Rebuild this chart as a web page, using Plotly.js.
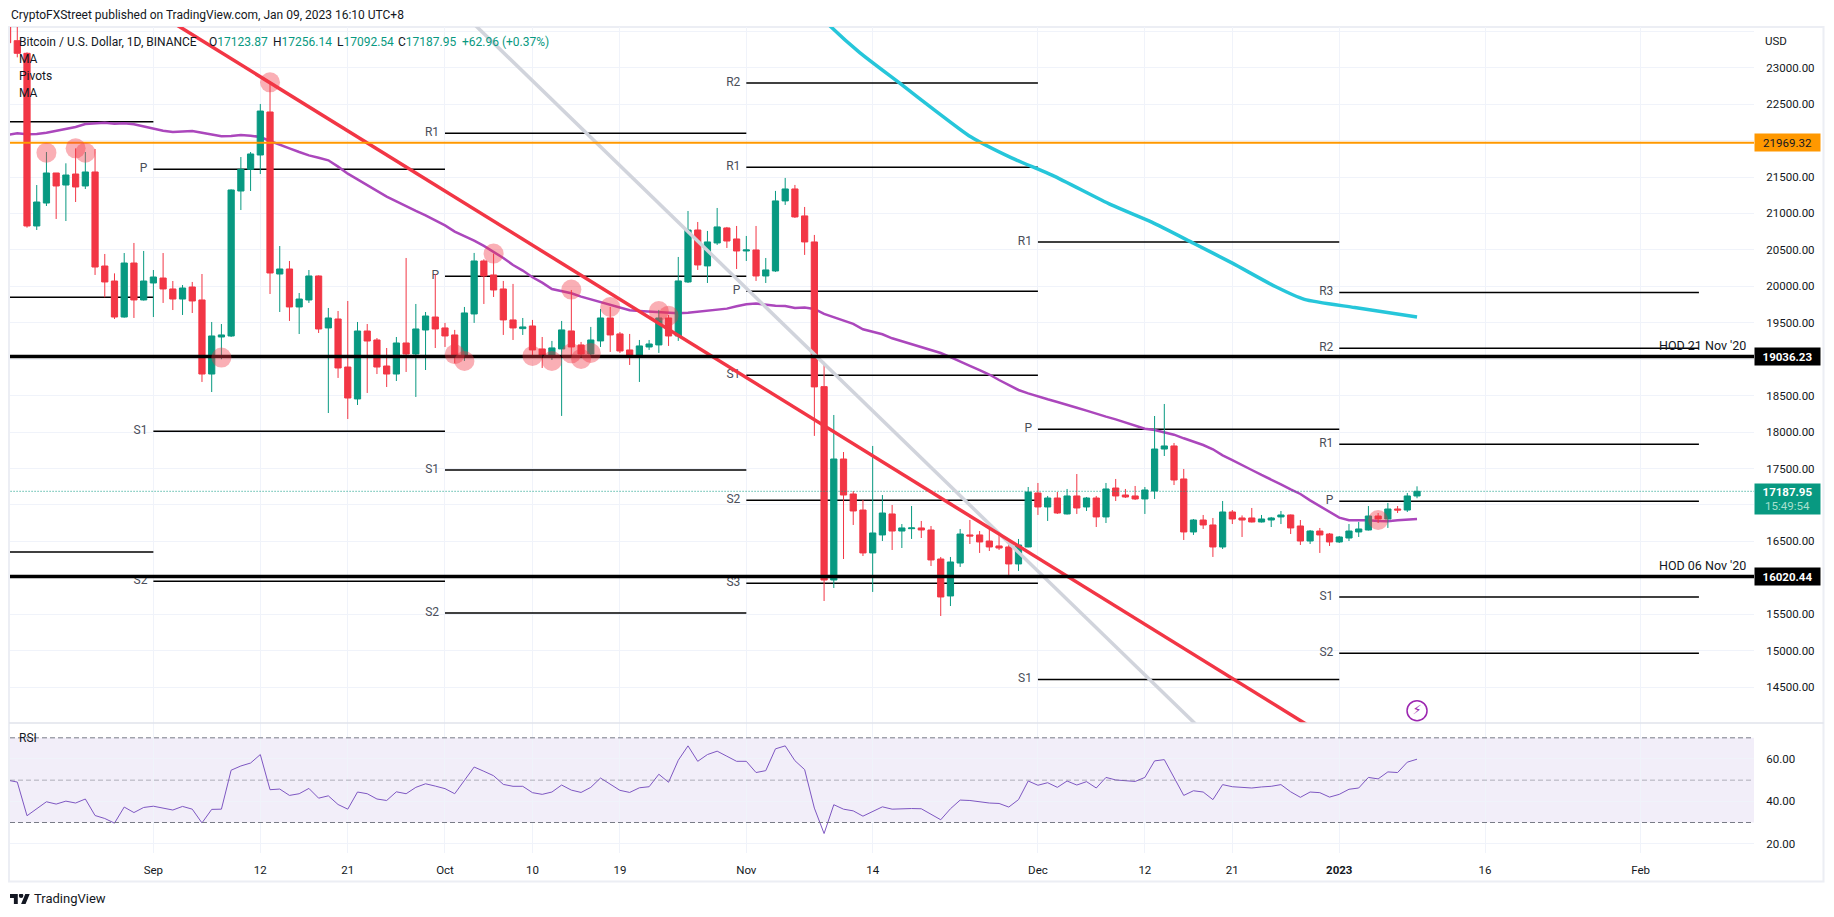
<!DOCTYPE html>
<html>
<head>
<meta charset="utf-8">
<script src="https://cdn.plot.ly/plotly-3.0.1.min.js"></script>
<style>html,body{margin:0;padding:0;background:#fff}#c{width:1834px;height:917px}</style>
</head>
<body>
<div id="c"></div>
<script>
const dates = [
"2022-08-17","2022-08-18","2022-08-19","2022-08-20","2022-08-21","2022-08-22","2022-08-23","2022-08-24","2022-08-25","2022-08-26","2022-08-27","2022-08-28","2022-08-29","2022-08-30","2022-08-31",
"2022-09-01","2022-09-02","2022-09-03","2022-09-04","2022-09-05","2022-09-06","2022-09-07","2022-09-08","2022-09-09","2022-09-10","2022-09-11","2022-09-12","2022-09-13","2022-09-14","2022-09-15","2022-09-16","2022-09-17","2022-09-18","2022-09-19","2022-09-20","2022-09-21","2022-09-22","2022-09-23","2022-09-24","2022-09-25","2022-09-26","2022-09-27","2022-09-28","2022-09-29","2022-09-30",
"2022-10-01","2022-10-02","2022-10-03","2022-10-04","2022-10-05","2022-10-06","2022-10-07","2022-10-08","2022-10-09","2022-10-10","2022-10-11","2022-10-12","2022-10-13","2022-10-14","2022-10-15","2022-10-16","2022-10-17","2022-10-18","2022-10-19","2022-10-20","2022-10-21","2022-10-22","2022-10-23","2022-10-24","2022-10-25","2022-10-26","2022-10-27","2022-10-28","2022-10-29","2022-10-30","2022-10-31",
"2022-11-01","2022-11-02","2022-11-03","2022-11-04","2022-11-05","2022-11-06","2022-11-07","2022-11-08","2022-11-09","2022-11-10","2022-11-11","2022-11-12","2022-11-13","2022-11-14","2022-11-15","2022-11-16","2022-11-17","2022-11-18","2022-11-19","2022-11-20","2022-11-21","2022-11-22","2022-11-23","2022-11-24","2022-11-25","2022-11-26","2022-11-27","2022-11-28","2022-11-29","2022-11-30",
"2022-12-01","2022-12-02","2022-12-03","2022-12-04","2022-12-05","2022-12-06","2022-12-07","2022-12-08","2022-12-09","2022-12-10","2022-12-11","2022-12-12","2022-12-13","2022-12-14","2022-12-15","2022-12-16","2022-12-17","2022-12-18","2022-12-19","2022-12-20","2022-12-21","2022-12-22","2022-12-23","2022-12-24","2022-12-25","2022-12-26","2022-12-27","2022-12-28","2022-12-29","2022-12-30","2022-12-31",
"2023-01-01","2023-01-02","2023-01-03","2023-01-04","2023-01-05","2023-01-06","2023-01-07","2023-01-08","2023-01-09"];

const opens = [
23856,23370,23197,20828,21143,21555,21390,21541,21377,21569,20279,20073,19579,20320,19813,
20046,20114,19964,19826,19991,19813,18797,19305,19319,21308,21605,21802,22392,20169,20238,19717,19813,20142,19429,19552,18893,18455,19387,19264,18907,18797,19223,19072,19401,19579,
19429,19333,19058,19621,20348,20156,19964,19539,19420,19456,19141,19058,19141,19388,19196,19072,19251,19566,19347,19127,19058,19168,19196,19566,19319,20060,20773,20280,20595,20801,20650,
20485,20499,20142,20211,21172,21336,20966,20609,18624,15971,17631,17151,16931,16342,16589,16877,16643,16675,16685,16657,16259,15752,16204,16589,16589,16506,16438,16424,16191,16424,
17165,16973,17096,16877,17124,16973,17096,16836,17233,17137,17124,17083,17192,17768,17810,17357,16630,16794,16726,16424,16904,16822,16822,16767,16794,16836,16863,16712,16506,16643,16602,
16493,16547,16630,16657,16849,16808,16945,16931,17123.87];
const highs = [
24446,23600,23210,21390,21843,21555,21688,21893,21843,21884,20444,20178,20457,20595,20485,
20224,20457,20073,20018,20060,20169,19511,19483,21330,21774,21843,22502,22808,20553,20348,19909,20224,20150,19703,19662,19799,19511,19483,19291,19154,19305,20389,19758,19648,20169,
19498,19402,19717,20458,20371,20449,20074,20033,19566,19539,19305,19251,19525,19950,19237,19443,19690,19717,19374,19347,19264,19264,19676,19607,20403,21034,20883,20760,21075,20815,20828,
20691,20828,20389,21309,21487,21391,21089,20705,18963,18235,17727,17192,17069,17810,17137,17000,16739,16986,16781,16712,16287,16287,16671,16794,16643,16671,16602,16506,16534,17247,
17302,17124,17178,17220,17425,17110,17124,17302,17357,17220,17261,17247,18221,18386,17851,17494,16808,16863,16822,17055,16931,16857,16959,16863,16836,16918,16870,16794,16657,16685,16616,
16575,16739,16767,16986,16890,17028,16986,17165,17256.14];
const lows = [
23180,23142,20805,20773,21102,20924,20896,21157,21335,20156,19849,19552,19570,19566,19805,
19579,19772,19675,19607,19634,18688,18550,19000,19305,21047,21308,21541,19895,19648,19525,19346,19772,19360,18262,18743,18180,18372,18537,18797,18619,18701,18825,18482,18852,19154,
19168,18944,18976,19498,19758,19854,19333,19264,19333,19045,18880,18990,18222,19058,19058,19058,19168,19100,19086,18921,18688,19127,19086,19182,19251,20046,20225,20046,20568,20526,20238,
20348,20074,20046,20198,21117,20938,20431,17948,15683,15861,16259,16726,16300,15807,16506,16383,16410,16534,16547,16163,15477,15614,16150,16465,16342,16369,16383,16040,16095,16420,
16863,16781,16877,16870,16877,16918,16698,16753,17055,17096,17069,16877,17083,17672,17274,16520,16589,16671,16287,16396,16739,16561,16760,16760,16698,16739,16602,16451,16465,16342,16438,
16479,16506,16561,16650,16753,16685,16890,16904,17092.54];
const closes = [
23342,23197,20828,21157,21555,21377,21527,21363,21569,20265,20060,19579,20320,19813,20073,
20128,19964,19826,19977,19799,18797,19319,19333,21322,21605,21816,22405,20183,20238,19717,19826,20142,19415,19566,18880,18468,19387,19250,18893,18797,19223,19072,19415,19593,19415,
19319,19058,19635,20348,20142,19950,19539,19429,19443,19127,19058,19155,19402,19168,19072,19264,19566,19333,19113,19058,19182,19209,19566,19319,20074,20773,20293,20609,20815,20622,20485,
20499,20142,20225,21172,21336,20952,20609,18620,15971,17631,17137,16918,16342,16616,16890,16643,16685,16685,16657,16246,15738,16218,16602,16575,16493,16424,16410,16191,16451,17178,
16973,17096,16890,17124,16959,17096,16836,17220,17124,17110,17083,17206,17768,17810,17343,16630,16794,16726,16424,16904,16808,16794,16767,16808,16822,16863,16685,16506,16643,16589,16493,
16561,16643,16671,16849,16808,16945,16931,17124,17187.95];

const ma50 = [
22076,22099,22085,22090,22108,22131,22159,22186,22227,22241,22245,22232,22236,22223,22191,
22168,22136,22117,22122,22131,22108,22085,22058,22063,22076,22067,22049,21994,21948,21893,21843,21797,21765,21729,21642,21546,21468,21386,21308,21230,21166,21098,21034,20974,20910,
20837,20751,20691,20627,20554,20472,20389,20293,20216,20124,20051,19964,19937,19905,19859,19822,19790,19745,19708,19671,19662,19653,19648,19635,19630,19639,19653,19667,19680,19694,19726,
19754,19763,19745,19735,19731,19703,19708,19690,19621,19575,19530,19484,19411,19374,19342,19287,19246,19205,19170,19130,19085,19030,18975,18910,18850,18790,18715,18646,18578,18532,
18486,18450,18413,18377,18335,18294,18249,18212,18175,18134,18088,18047,18029,18002,17965,17915,17869,17823,17764,17681,17617,17553,17480,17412,17352,17284,17215,17151,17064,16986,16909,
16826,16790,16794,16790,16781,16776,16790,16799,16808];

const ma200Dates = ["2022-11-08","2022-11-09 14:00","2022-11-12 16:00","2022-11-16 22:00","2022-11-20 12:00","2022-11-24 02:00","2022-11-28 07:00","2022-12-02 12:00","2022-12-08 12:00","2022-12-12 17:00","2022-12-17","2022-12-21","2022-12-25 10:00","2022-12-28 10:00","2023-01-02 14:00","2023-01-09"];
const ma200 = [23800,23576,23207,22774,22405,22052,21762,21522,21120,20880,20591,20318,19997,19821,19709,19580];

const rsi = [
50,49.1,33.2,36.3,39.8,38.7,40.1,39.2,41.1,33.3,31.9,29.7,37.3,34.7,37.1,
37.7,36.8,35.9,37.6,36.3,29.8,36.2,36.3,54.7,56.7,58.1,62.1,45.5,45.8,42.8,43.6,46.1,41.5,42.6,38.5,36.3,44.4,43.6,41.1,40.4,44.5,43.6,46.6,48.3,47.2,
46,43.6,49.9,56.2,54.2,52.1,48,47.1,47.1,44.1,43.3,44.4,47.7,45.3,44.2,46.6,51,48.2,45.2,44.2,46.4,46.9,52.8,49,59.4,66.2,58.9,62.1,63.7,61.3,58.9,
58.9,53.6,54.5,64.8,66.2,59.2,55,36.8,24.8,38.4,36.3,35.5,33,35.2,37.4,36.3,36.5,36.6,36.5,34,31.3,36.5,40.6,40.4,39.8,39.2,39,37.3,40.8,49.6,
47.6,48.8,46.6,49.6,47.7,49.3,46.3,51.3,50.1,49.9,49.4,51.3,59.1,59.7,51.5,42.8,45,44.4,40.8,47.9,46.9,46.6,46.3,46.8,47.1,47.9,44.5,41.9,44.4,44.1,42,
43.3,45.7,46.3,51.3,50.6,53.9,53.6,58.5,59.9];

const pivotStart = ["2022-08-01","2022-08-01","2022-08-01",
  "2022-09-01","2022-09-01","2022-09-01",
  "2022-10-01","2022-10-01","2022-10-01","2022-10-01",
  "2022-11-01","2022-11-01","2022-11-01","2022-11-01","2022-11-01","2022-11-01",
  "2022-12-01","2022-12-01","2022-12-01",
  "2023-01-01","2023-01-01","2023-01-01","2023-01-01","2023-01-01","2023-01-01"];
const pivotEnd = ["2022-09-01","2022-09-01","2022-09-01",
  "2022-10-01","2022-10-01","2022-10-01",
  "2022-11-01","2022-11-01","2022-11-01","2022-11-01",
  "2022-12-01","2022-12-01","2022-12-01","2022-12-01","2022-12-01","2022-12-01",
  "2023-01-01","2023-01-01","2023-01-01",
  "2023-02-07","2023-02-07","2023-02-07","2023-02-07","2023-02-07","2023-02-07"];
const pivotLevel = [22259,19849,16355,
  21605,18011,15954,
  22100,20138,17480,15519,
  22790,21633,19932,18780,17064,15925,
  20609,18038,14606,
  19917,19150,17832,17050,15738,14966];
const pivotLabel = ["","","",
  "P","S1","S2",
  "R1","P","S1","S2",
  "R2","R1","P","S1","S2","S3",
  "R1","P","S1",
  "R3","R2","R1","P","S1","S2"];

const hLevels = [21969.32, 19036.23, 16020.44];
const hColors = ["#ff9800", "#000000", "#000000"];
const hWidths = [2, 3.5, 3.5];
const lastPrice = 17187.95;

const redTrendDates = ["2022-09-01", "2023-01-01"];
const redTrendValues = [23784, 13712];
const grayTrendDates = ["2022-10-03", "2022-12-20"];
const grayTrendValues = [23726, 13634];

const circleDates = ["2022-08-21","2022-08-24","2022-08-25","2022-09-08","2022-09-13","2022-10-02","2022-10-03","2022-10-06","2022-10-10","2022-10-12","2022-10-14","2022-10-14","2022-10-15","2022-10-16","2022-10-18","2022-10-23","2022-10-24","2023-01-05"];
const circleValues = [21834,21893,21834,19022,22799,19068,18976,20449,19045,18976,19955,19081,19004,19086,19717,19662,19598,16794];

const priceTicks = [14500,15000,15500,16000,16500,17000,17500,18000,18500,19000,19500,20000,20500,21000,21500,22000,22500,23000,23500];
const priceTickText = ["14500.00","15000.00","15500.00","","16500.00","","17500.00","18000.00","18500.00","","19500.00","20000.00","20500.00","21000.00","21500.00","","22500.00","23000.00",""];
const rsiTicks = [20,40,60];
const rsiTickText = ["20.00","40.00","60.00"];
const timeTicks = ["2022-09-01","2022-09-12","2022-09-21","2022-10-01","2022-10-10","2022-10-19","2022-11-01","2022-11-14","2022-12-01","2022-12-12","2022-12-21","2023-01-01","2023-01-16","2023-02-01"];
const timeTickText = ["Sep","12","21","Oct","10","19","Nov","14","Dec","12","21","<b>2023</b>","16","Feb"];

const UP = "#089981", DOWN = "#f23645", INK = "#131722";
const FONT = "Roboto, 'Noto Sans', sans-serif";
const L = 10, R = 1754, T = 27, B = 853, SPLIT = 723;
const xp = px => (px - L) / (R - L);
const yp = py => (B - py) / (B - T);

const pivotX = [], pivotY = [], pivotT = [];
pivotStart.forEach((s, i) => {
  pivotX.push(s, pivotEnd[i], null);
  pivotY.push(pivotLevel[i], pivotLevel[i], null);
  pivotT.push(pivotLabel[i] ? pivotLabel[i] + "  " : "", "", "");
});

const traces = [
  {type:"scatter", mode:"lines+text", x:pivotX, y:pivotY, text:pivotT, textposition:"middle left",
   textfont:{family:FONT,size:12,color:"#4a4e59"}, line:{color:"#000",width:1.5}, connectgaps:false, yaxis:"y", xaxis:"x", hoverinfo:"skip", cliponaxis:true},
  {type:"scatter", mode:"lines", x:dates, y:ma50, line:{color:"#ab47bc",width:2.5}, yaxis:"y", xaxis:"x", hoverinfo:"skip"},
  {type:"scatter", mode:"lines", x:ma200Dates, y:ma200, line:{color:"#26c6da",width:3.5,shape:"spline",smoothing:0.6}, yaxis:"y", xaxis:"x", hoverinfo:"skip"},
  {type:"candlestick", x:dates, open:opens, high:highs, low:lows, close:closes, xaxis:"x", yaxis:"y3",
   increasing:{line:{color:UP,width:1},fillcolor:UP}, decreasing:{line:{color:DOWN,width:1},fillcolor:DOWN}, whiskerwidth:0, hoverinfo:"skip"},
  {type:"scatter", mode:"lines", x:[dates[0],"2023-02-12 16:00"], y:[lastPrice,lastPrice], line:{color:UP,width:1,dash:"1px,2px"}, xaxis:"x", yaxis:"y4", hoverinfo:"skip"},
  {type:"scatter", mode:"lines", x:grayTrendDates, y:grayTrendValues, line:{color:"#d1d4dc",width:3.5}, xaxis:"x", yaxis:"y4", hoverinfo:"skip"},
  {type:"scatter", mode:"lines", x:redTrendDates, y:redTrendValues, line:{color:DOWN,width:3.5}, xaxis:"x", yaxis:"y4", hoverinfo:"skip"}
];
hLevels.forEach((v, i) => traces.push({type:"scatter", mode:"lines", x:["2022-08-01","2023-03-01"], y:[v,v],
  line:{color:hColors[i],width:hWidths[i]}, xaxis:"x", yaxis:"y4", hoverinfo:"skip"}));
traces.push(
  {type:"scatter", mode:"markers", x:circleDates, y:circleValues, marker:{size:20,color:"rgba(242,54,69,0.4)",line:{width:0}}, xaxis:"x", yaxis:"y4", hoverinfo:"skip"},
  {type:"scatter", mode:"markers+text", x:["2023-01-09"], y:[14178], text:["<b>⚡</b>"], textposition:"middle center",
   textfont:{family:"'DejaVu Sans'",size:13,color:"#9c27b0"}, marker:{symbol:"circle-open",size:20,color:"#9c27b0",line:{color:"#9c27b0",width:1.5}}, xaxis:"x", yaxis:"y4", hoverinfo:"skip"},
  {type:"scatter", mode:"lines", x:dates, y:rsi, line:{color:"#7e57c2",width:1}, xaxis:"x", yaxis:"y2", hoverinfo:"skip"}
);

function label(text, x, y, opts) {
  return Object.assign({text:text, xref:"paper", yref:"paper", x:xp(x), y:yp(y), xanchor:"left", yanchor:"middle",
    showarrow:false, font:{family:FONT,size:12,color:INK}, borderpad:0}, opts||{});
}
const v = s => '<span style="color:'+UP+'">'+s+'</span>';
function axisTag(text, price, bg, fg) {
  return {text:text, xref:"paper", yref:"y", x:1, y:price, xanchor:"left", yanchor:"middle", showarrow:false,
    width:65, height:17, align:"center", bgcolor:bg, font:{family:FONT,size:11.5,color:fg}, borderpad:0};
}
const annotations = [
  label("CryptoFXStreet published on TradingView.com, Jan 09, 2023 16:10 UTC+8", 10, 14.5),
  label("Bitcoin / U.S. Dollar, 1D, BINANCE", 18, 41.5),
  label("O"+v("17123.87"), 208, 41.5),
  label("H"+v("17256.14"), 272, 41.5),
  label("L"+v("17092.54"), 336, 41.5),
  label("C"+v("17187.95"), 397, 41.5),
  label(v("+62.96 (+0.37%)"), 461, 41.5),
  label("MA", 18, 59),
  label("Pivots", 18, 76),
  label("MA", 18, 93),
  label("RSI", 18, 738),
  label("USD", 1764, 40.5, {font:{family:FONT,size:11.5,color:INK}}),
  label("TradingView", 33, 899, {font:{family:FONT,size:13,color:INK}}),
  label("HOD 21 Nov '20", 1747, 345, {xanchor:"right",font:{family:FONT,size:12.5,color:INK}}),
  label("HOD 06 Nov '20", 1747, 565.7, {xanchor:"right",font:{family:FONT,size:12.5,color:INK}}),
  axisTag("21969.32", hLevels[0], "#ff9800", INK),
  axisTag("<b>19036.23</b>", hLevels[1], "#000000", "#ffffff"),
  axisTag("<b>16020.44</b>", hLevels[2], "#000000", "#ffffff"),
  {text:'<b>17187.95</b><br><span style="color:#a8e0cf">15:49:54</span>', xref:"paper", yref:"y", x:1, y:lastPrice, xanchor:"left", yanchor:"top", yshift:8,
   showarrow:false, width:65, height:30, align:"center", bgcolor:UP, font:{family:FONT,size:11.5,color:"#ffffff"}, borderpad:0}
];

const shapes = [
  {type:"rect", xref:"paper", yref:"y2", x0:0, x1:1, y0:30, y1:70, fillcolor:"rgba(126,87,194,0.1)", line:{width:0}, layer:"below"},
  {type:"line", xref:"paper", yref:"y2", x0:0, x1:1, y0:70, y1:70, line:{color:"#787b86",width:1,dash:"5px,3px"}},
  {type:"line", xref:"paper", yref:"y2", x0:0, x1:1, y0:30, y1:30, line:{color:"#787b86",width:1,dash:"5px,3px"}},
  {type:"line", xref:"paper", yref:"y2", x0:0, x1:1, y0:50, y1:50, line:{color:"rgba(120,123,134,0.55)",width:1,dash:"5px,3px"}},
  {type:"rect", xref:"paper", yref:"paper", x0:xp(9), x1:xp(1823.5), y0:yp(27), y1:yp(881.5), line:{color:"#eceef4",width:2}, layer:"below"},
  {type:"line", xref:"paper", yref:"paper", x0:xp(9), x1:xp(1823.5), y0:yp(SPLIT), y1:yp(SPLIT), line:{color:"#e0e3eb",width:1.5}}
];

const logo = '<svg xmlns="http://www.w3.org/2000/svg" viewBox="0 4 36 18" width="36" height="18"><path fill="#131722" d="M14 22H7V11H0V4h14v18zM28 22h-8l7.5-18h8L28 22z"/><circle fill="#131722" cx="20" cy="7" r="4"/></svg>';

const axisFont = {family:FONT,size:11.5,color:INK};
const layout = {
  width:1834, height:917, paper_bgcolor:"#ffffff", plot_bgcolor:"#ffffff",
  margin:{l:L, r:1834-R, t:T, b:917-B, pad:0}, showlegend:false, hovermode:false, dragmode:false,
  boxmode:"overlay", boxgap:0.36, boxgroupgap:0,
  xaxis:{type:"date", range:["2022-08-17 06:00","2023-02-12 16:00"], anchor:"y2", domain:[0,1], tickmode:"array", tickvals:timeTicks, ticktext:timeTickText,
    showgrid:true, gridcolor:"#f0f3fa", gridwidth:1, zeroline:false, showline:false, ticks:"outside", ticklen:6, tickcolor:"rgba(0,0,0,0)", tickfont:axisFont, rangeslider:{visible:false}, fixedrange:true},
  yaxis:{domain:[yp(SPLIT),1], range:[14009,23558], side:"right", anchor:"x", tickmode:"array", tickvals:priceTicks, ticktext:priceTickText,
    showgrid:true, gridcolor:"#f0f3fa", zeroline:false, showline:false, ticks:"outside", ticklen:9, tickcolor:"rgba(0,0,0,0)", tickfont:axisFont, fixedrange:true},
  yaxis2:{domain:[0,yp(SPLIT)], range:[15.6,77], side:"right", anchor:"x", tickmode:"array", tickvals:rsiTicks, ticktext:rsiTickText,
    showgrid:true, gridcolor:"#f0f3fa", zeroline:false, showline:false, ticks:"outside", ticklen:9, tickcolor:"rgba(0,0,0,0)", tickfont:axisFont, fixedrange:true},
  yaxis3:{overlaying:"y", matches:"y", side:"right", anchor:"x", visible:false, showgrid:false, fixedrange:true},
  yaxis4:{overlaying:"y", matches:"y", side:"right", anchor:"x", visible:false, showgrid:false, fixedrange:true},
  annotations:annotations, shapes:shapes,
  images:[{source:"data:image/svg+xml;charset=utf-8,"+encodeURIComponent(logo), xref:"paper", yref:"paper", x:xp(10), y:yp(894), sizex:20/(R-L), sizey:10/(B-T), sizing:"stretch", xanchor:"left", yanchor:"top", layer:"above"}]
};
Plotly.newPlot("c", traces, layout, {displayModeBar:false, staticPlot:true, responsive:false});
</script>
</body>
</html>
